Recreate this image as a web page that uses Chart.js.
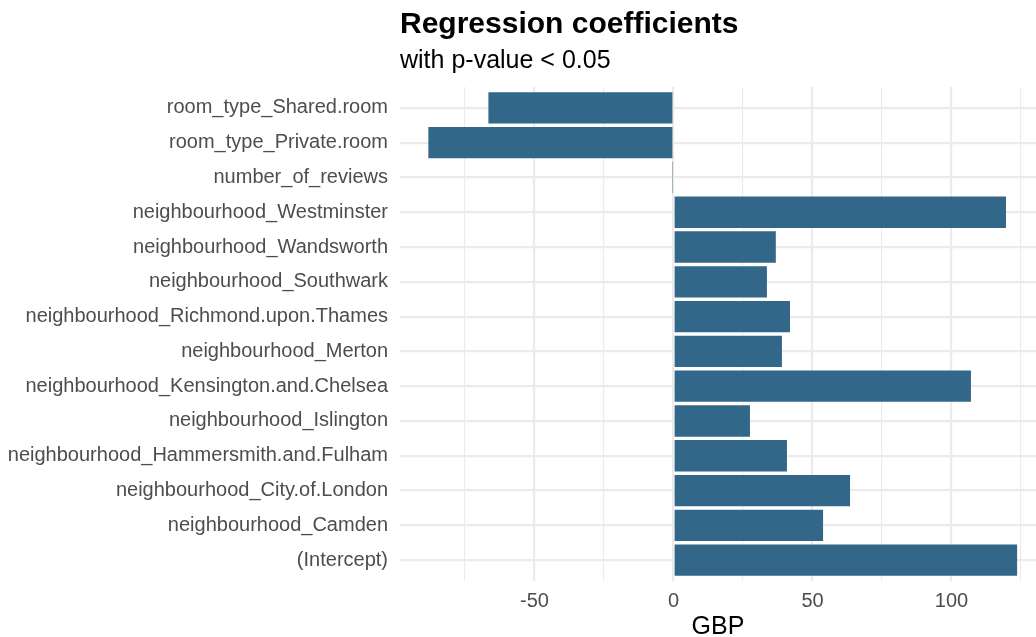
<!DOCTYPE html>
<html>
<head>
<meta charset="utf-8">
<script src="https://cdn.jsdelivr.net/npm/chart.js@4/dist/chart.umd.min.js"></script>
<style>
  body { margin: 0; background: #fff; font-family: "Liberation Sans", Arial, sans-serif; }
  #wrap { position: relative; width: 1036px; height: 637px; }
  #title { position: absolute; left: 400px; top: 8px; font-size: 30px; line-height: 30px; font-weight: bold; color: #000; }
  #subtitle { position: absolute; left: 400px; top: 47px; font-size: 25px; line-height: 25px; color: #000; }
  canvas { position: absolute; left: 0; top: 0; }
</style>
</head>
<body>
<div id="wrap">
  <canvas id="coefChart" width="1036" height="637"></canvas>
  <div id="title">Regression coefficients</div>
  <div id="subtitle">with p-value &lt; 0.05</div>
</div>
<script>
// Terms, top to bottom as shown
const terms = [
  'room_type_Shared.room',
  'room_type_Private.room',
  'number_of_reviews',
  'neighbourhood_Westminster',
  'neighbourhood_Wandsworth',
  'neighbourhood_Southwark',
  'neighbourhood_Richmond.upon.Thames',
  'neighbourhood_Merton',
  'neighbourhood_Kensington.and.Chelsea',
  'neighbourhood_Islington',
  'neighbourhood_Hammersmith.and.Fulham',
  'neighbourhood_City.of.London',
  'neighbourhood_Camden',
  '(Intercept)'
];

// Coefficients in GBP
const coefs = [-66.6, -88.2, -0.4, 119.6, 36.8, 33.6, 41.9, 39.0, 107.0, 27.5, 40.8, 63.5, 53.8, 123.6];

// x axis grid positions and the ones that get a label
const xGrid = [-75, -50, -25, 0, 25, 50, 75, 100, 125];
const xLabelled = [-50, 0, 50, 100];

const barColor = '#33678a';
const gridColor = '#ebebeb';

Chart.defaults.font.family = '"Liberation Sans", Arial, sans-serif';

const points = coefs.map((v, i) => ({ x: v, y: i }));

new Chart(document.getElementById('coefChart'), {
  type: 'bar',
  data: {
    datasets: [{
      data: points,
      backgroundColor: barColor,
      borderWidth: 0,
      minBarLength: 1.5,  // keeps the tiny number_of_reviews bar visible
      categoryPercentage: 1,
      barPercentage: 0.9
    }]
  },
  options: {
    indexAxis: 'y',
    responsive: false,
    animation: false,
    layout: { padding: { top: 87, left: 0, right: 0, bottom: 0 } },
    plugins: { legend: { display: false }, tooltip: { enabled: false } },
    scales: {
      x: {
        type: 'linear',
        min: -98.4,
        max: 130.4,
        afterBuildTicks: s => { s.ticks = xGrid.map(v => ({ value: v })); },
        afterFit: s => { s.height = 56; },
        grid: {
          color: gridColor,
          lineWidth: ctx => xLabelled.includes(ctx.tick.value) ? 2.2 : 1.1,
          drawTicks: false
        },
        border: { display: false },
        ticks: {
          color: '#4d4d4d',
          font: { size: 20 },
          padding: 8,
          maxRotation: 0,
          autoSkip: false,
          callback: v => xLabelled.includes(v) ? String(v) : ''
        },
        title: {
          display: true,
          text: 'GBP',
          color: '#000',
          font: { size: 25 },
          padding: { top: 0, bottom: -5 }
        }
      },
      y: {
        type: 'linear',
        reverse: true,
        offset: false,
        min: -0.6,
        max: terms.length - 0.4,
        afterBuildTicks: s => { s.ticks = terms.map((t, i) => ({ value: i })); },
        afterFit: s => { s.width = 400; },
        grid: { color: gridColor, lineWidth: 2.2, drawTicks: false, offset: false },
        border: { display: false },
        ticks: {
          color: '#4d4d4d',
          font: { size: 20 },
          padding: 12,
          autoSkip: false,
          callback: v => terms[v]
        }
      }
    }
  }
});
</script>
</body>
</html>
